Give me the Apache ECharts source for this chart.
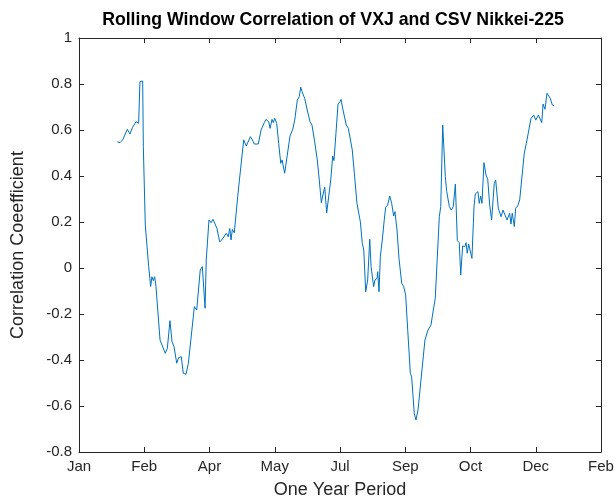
<!DOCTYPE html>
<html>
<head>
<meta charset="utf-8">
<script src="https://cdn.jsdelivr.net/npm/echarts@6/dist/echarts.min.js"></script>
<style>
  html, body { margin: 0; padding: 0; background: #fff; }
  #main { width: 615px; height: 497px; }
</style>
</head>
<body>
<div id="main"></div>
<script>
// day offsets (0 = first Jan tick) and rolling correlation values
var days = [29.3, 31.4, 33.5, 37.0, 39.1, 41.1, 43.7, 45.7, 46.7, 48.8, 49.3, 50.8, 51.9, 53.4, 54.9, 55.9, 56.9, 58.0, 59.0, 60.0,
  62.1, 63.6, 66.1, 67.7, 69.7, 71.3, 72.8, 73.8, 74.9, 76.4, 78.4, 79.9, 82.0, 83.8, 88.4, 90.2, 92.9, 94.5, 95.6, 96.6,
  97.5, 99.6, 101.2, 102.7, 104.2, 105.7, 107.8, 109.4, 110.9, 112.9, 114.4, 115.5, 116.5, 117.5, 119.0, 121.6, 122.6, 124.1, 126.2, 128.2,
  131.3, 132.8, 134.3, 137.4, 139.5, 142.0, 143.3, 145.4, 146.4, 147.9, 148.9, 150.0, 151.5, 153.0, 154.6, 155.6, 157.6, 159.6, 161.7, 163.8,
  165.3, 167.3, 168.8, 169.9, 170.9, 171.9, 172.9, 174.9, 177.0, 178.5, 180.6, 182.6, 184.1, 185.7, 186.7, 188.3, 189.8, 190.8, 192.9, 194.4,
  195.4, 196.9, 198.5, 200.0, 200.8, 202.3, 204.8, 206.4, 209.4, 211.0, 213.0, 215.6, 217.1, 218.2, 219.7, 221.2, 222.8, 223.8, 225.8, 226.8,
  228.4, 228.9, 229.9, 230.9, 232.4, 233.9, 235.0, 236.5, 238.1, 239.6, 241.1, 242.1, 243.7, 245.2, 247.3, 248.8, 250.3, 251.9, 253.9, 254.9,
  256.9, 258.2, 259.8, 262.8, 265.1, 267.4, 269.7, 271.5, 273.0, 276.1, 277.2, 278.7, 280.7, 281.8, 283.8, 285.3, 286.8, 288.4, 289.9, 291.4,
  292.5, 294.0, 295.6, 296.6, 297.5, 298.6, 299.6, 301.1, 302.7, 303.7, 305.2, 305.7, 306.7, 307.8, 308.8, 310.3, 311.9, 313.2, 314.7, 316.2,
  318.2, 319.3, 321.3, 323.4, 324.9, 326.4, 328.0, 329.5, 330.0, 331.0, 332.0, 333.6, 334.6, 336.2, 337.7, 339.2, 341.2, 342.8, 344.3, 346.4,
  348.4, 350.0, 352.0, 353.5, 354.6, 355.6, 357.1, 358.6, 359.6, 361.1, 362.7, 364.2];
var corr = [0.549, 0.545, 0.557, 0.603, 0.583, 0.612, 0.636, 0.629, 0.81, 0.813, 0.527, 0.187, 0.18, 0.006, -0.08, -0.038, -0.055, -0.038, -0.081, -0.078,
  -0.313, -0.306, -0.371, -0.349, -0.229, -0.32, -0.342, -0.335, -0.414, -0.389, -0.386, -0.458, -0.462, -0.415, -0.168, -0.183, -0.009, 0.006, -0.001, -0.175,
  0.035, 0.209, 0.197, 0.212, 0.209, 0.172, 0.114, 0.122, 0.114, 0.151, 0.136, 0.172, 0.122, 0.168, 0.153, 0.31, 0.365, 0.371, 0.557, 0.53,
  0.571, 0.557, 0.539, 0.539, 0.6, 0.632, 0.646, 0.636, 0.607, 0.646, 0.632, 0.651, 0.629, 0.542, 0.455, 0.47, 0.412, 0.491, 0.574, 0.603,
  0.643, 0.73, 0.745, 0.786, 0.767, 0.765, 0.738, 0.687, 0.636, 0.622, 0.549, 0.47, 0.383, 0.284, 0.313, 0.351, 0.24, 0.245, 0.383, 0.487,
  0.467, 0.586, 0.713, 0.723, 0.733, 0.687, 0.622, 0.607, 0.513, 0.412, 0.281, 0.201, 0.107, 0.078, -0.103, -0.052, 0.125, 0.006, -0.081, -0.052,
  -0.045, -0.016, -0.103, 0.049, 0.122, 0.209, 0.264, 0.274, 0.313, 0.281, 0.226, 0.245, 0.165, 0.042, -0.067, -0.081, -0.117, -0.27, -0.458, -0.473,
  -0.632, -0.661, -0.617, -0.443, -0.313, -0.27, -0.248, -0.183, -0.132, 0.223, 0.267, 0.622, 0.397, 0.332, 0.267, 0.252, 0.267, 0.365, 0.119, 0.11,
  -0.03, 0.096, 0.093, 0.11, 0.064, 0.104, 0.096, 0.042, 0.267, 0.322, 0.317, 0.332, 0.281, 0.313, 0.281, 0.458, 0.404, 0.386, 0.274, 0.209,
  0.368, 0.383, 0.26, 0.223, 0.252, 0.26, 0.209, 0.201, 0.238, 0.191, 0.238, 0.18, 0.26, 0.27, 0.296, 0.383, 0.499, 0.542, 0.549, 0.651,
  0.665, 0.643, 0.665, 0.661, 0.632, 0.713, 0.69, 0.76, 0.762, 0.738, 0.709, 0.704];
// month labels at every 50-day tick
var tickLabels = ['Jan', 'Feb', 'Apr', 'May', 'Jul', 'Sep', 'Oct', 'Dec', 'Feb'];

var axisColor = '#262626';
var font = 'Liberation Sans, Arial, Helvetica, sans-serif';

var points = days.map(function (d, i) { return [d, corr[i]]; });

var baseAxis = {
  axisLine: { show: true, onZero: false, lineStyle: { color: axisColor, width: 1 } },
  axisTick: { show: true, inside: true, length: 5, lineStyle: { color: axisColor } },
  splitLine: { show: false }
};

var option = {
  backgroundColor: '#fff',
  animation: false,
  title: {
    text: 'Rolling Window Correlation of VXJ and CSV Nikkei-225',
    left: 328,
    textAlign: 'center',
    top: 6,
    textStyle: { fontFamily: font, fontSize: 17.7, fontWeight: 'bold', color: '#000' }
  },
  grid: { left: 79, right: 14, top: 38, bottom: 45, outerBoundsMode: 'none', containLabel: false },
  xAxis: [
    Object.assign({}, baseAxis, {
      type: 'value', min: 0, max: 400, interval: 50, position: 'bottom',
      name: 'One Year Period', nameLocation: 'middle', nameGap: 29,
      nameTextStyle: { fontFamily: font, fontSize: 18, color: axisColor },
      axisLabel: {
        margin: 7, fontFamily: font, fontSize: 15, color: axisColor,
        formatter: function (v) { return tickLabels[Math.round(v / 50)]; }
      }
    }),
    Object.assign({}, baseAxis, {
      type: 'value', min: 0, max: 400, interval: 50, position: 'top',
      axisLabel: { show: false }
    })
  ],
  yAxis: [
    Object.assign({}, baseAxis, {
      type: 'value', min: -0.8, max: 1, interval: 0.2, position: 'left',
      name: 'Correlation Coeefficient', nameLocation: 'middle', nameGap: 52,
      nameTextStyle: { fontFamily: font, fontSize: 18, color: axisColor },
      axisLabel: {
        margin: 7, fontFamily: font, fontSize: 15, color: axisColor,
        formatter: function (v) { return String(+v.toFixed(1)); }
      }
    }),
    Object.assign({}, baseAxis, {
      type: 'value', min: -0.8, max: 1, interval: 0.2, position: 'right',
      axisLabel: { show: false }
    })
  ],
  series: [{
    type: 'line',
    data: points,
    showSymbol: false,
    lineStyle: { color: '#0072BD', width: 1 },
    itemStyle: { color: '#0072BD' }
  }]
};

var chart = echarts.init(document.getElementById('main'));
chart.setOption(option);
</script>
</body>
</html>
